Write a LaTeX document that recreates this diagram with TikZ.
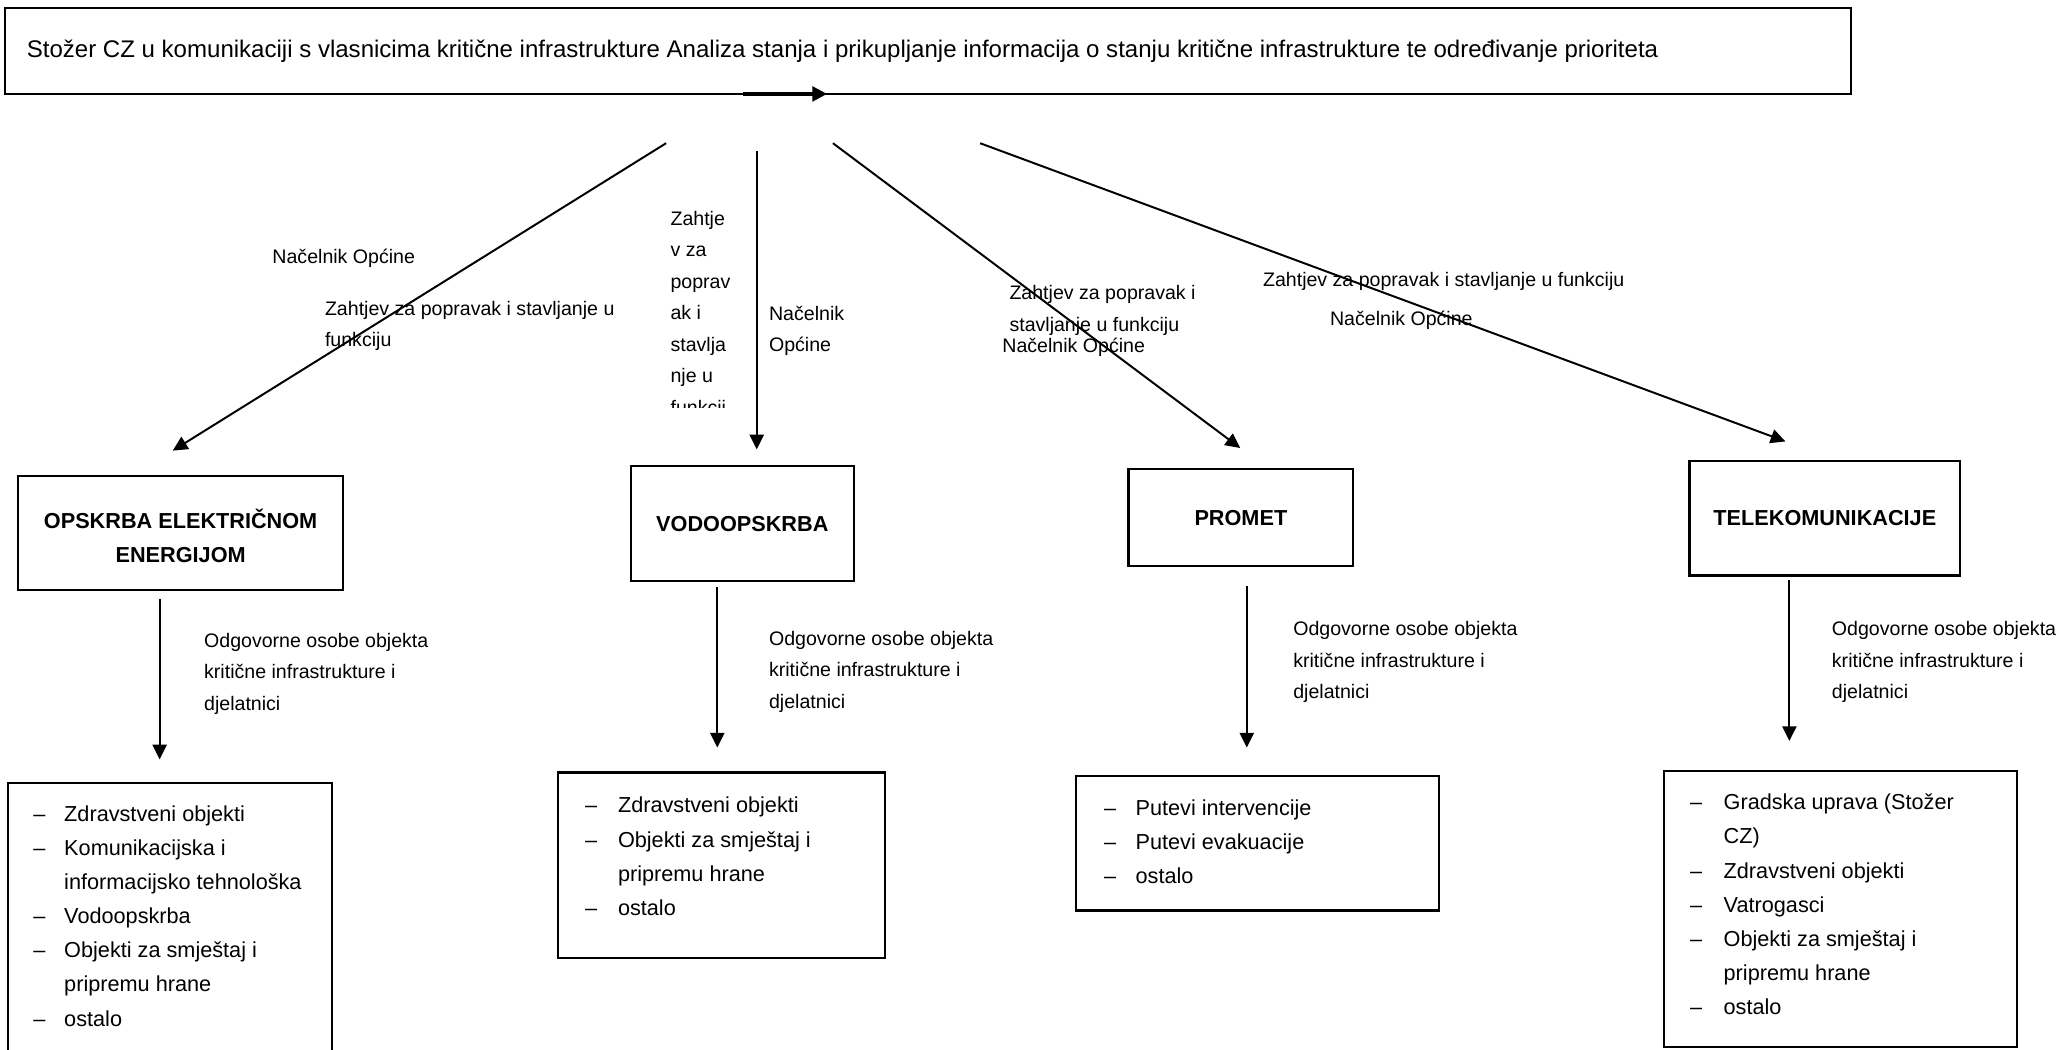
\documentclass[tikz,border=0pt]{standalone}
\usepackage{fontspec}
\setmainfont{Liberation Sans}
\usetikzlibrary{arrows.meta}
\newcommand{\multiline}[1]{\begin{tabular}[t]{@{}l@{}}#1\end{tabular}}
\newcommand{\dashlist}[2]{\begin{tabular}[t]{@{}p{#1}@{}l@{}}#2\end{tabular}}
\begin{document}
\begin{tikzpicture}[x=0.5pt,y=-0.5pt,
  box/.style={draw, line width=0.8pt, inner sep=0, minimum width=#1},
  conn/.style={line width=0.75pt, -{Triangle[length=5.6pt,width=5.4pt]}},
  lbl/.style={anchor=base west, inner sep=0, font=\fontsize{7.45}{12}\selectfont},
  lst/.style={anchor=base west, inner sep=0, font=\fontsize{8.25}{13}\selectfont},
  head/.style={anchor=base, inner sep=0, font=\fontsize{8.25}{13.1}\selectfont\bfseries},
]
\useasboundingbox (0,0) rectangle (1568,799);
\clip (0,0) rectangle (1568,799);

% top box
\node[box=702.5pt, minimum height=32.6pt] (top) at (706.5,38.9) {};
\node[anchor=base west, inner sep=0, font=\fontsize{9.15}{13}\selectfont] (toptext) at (20,43.5)
  {Stožer CZ u komunikaciji s vlasnicima kritične infrastrukture Analiza stanja i prikupljanje informacija o stanju kritične infrastrukture te određivanje prioriteta};
\coordinate (ts) at (565.6,71.5);
\coordinate (te) at (629.5,71.5);
\draw[line width=1.2pt, -{Triangle[length=5.6pt,width=5.6pt]}] (ts) -- (te);

% heading boxes
\node[box=123.5pt, minimum height=43.5pt] (b1) at (137.5,405.5) {};
\node[box=85pt, minimum height=43.5pt] (b2) at (565,398.5) {};
\node[box=85.5pt, minimum height=37pt] (b3) at (944.5,394) {};
\node[box=103pt, minimum height=43.5pt] (b4) at (1389,394.5) {};
\node[head] (h1) at (137.5,402.2) {\begin{tabular}[t]{@{}c@{}}OPSKRBA ELEKTRIČNOM\\ENERGIJOM\end{tabular}};
\node[head] (h2) at (565,404.2) {VODOOPSKRBA};
\node[head] (h3) at (944.5,400.2) {PROMET};
\node[head] (h4) at (1389,400.2) {TELEKOMUNIKACIJE};

% list boxes
\node[box=123.25pt, minimum height=109.5pt] (l1) at (129.25,705.5) {};
\node[box=124.3pt, minimum height=70.5pt] (l2) at (549.3,658.5) {};
\node[box=138pt, minimum height=51.25pt] (l3) at (957,641.75) {};
\node[box=134.2pt, minimum height=105pt] (l4) at (1400.8,692) {};

\node[lst] (i1) at (25,625) {\dashlist{11.75pt}{–&Zdravstveni objekti\\–&Komunikacijska i\\&informacijsko tehnološka\\–&Vodoopskrba\\–&Objekti za smještaj i\\&pripremu hrane\\–&ostalo}};
\node[lst] (i2) at (445,618.7) {\dashlist{12.5pt}{–&Zdravstveni objekti\\–&Objekti za smještaj i\\&pripremu hrane\\–&ostalo}};
\node[lst] (i3) at (840,620.7) {\dashlist{12pt}{–&Putevi intervencije\\–&Putevi evakuacije\\–&ostalo}};
\node[lst] (i4) at (1286,616.3) {\dashlist{12.8pt}{–&Gradska uprava (Stožer\\&CZ)\\–&Zdravstveni objekti\\–&Vatrogasci\\–&Objekti za smještaj i\\&pripremu hrane\\–&ostalo}};

% upper connectors
\coordinate (s1) at (507,109);   \coordinate (e1) at (131.5,343);
\coordinate (s2) at (576,115);   \coordinate (e2) at (576,342);
\coordinate (s3) at (634,109);   \coordinate (e3) at (944,341);
\coordinate (s4) at (746,109);   \coordinate (e4) at (1359,336);
\draw[conn] (s1) -- (e1);
\draw[conn] (s2) -- (e2);
\draw[conn] (s3) -- (e3);
\draw[conn] (s4) -- (e4);

% upper labels
\node[lbl] (n1) at (207,200.4) {Načelnik Općine};
\node[lbl] (z1) at (247,239.8) {\multiline{Zahtjev za popravak i stavljanje u\\funkciju}};
\begin{scope}
\clip (495,140) rectangle (572,310.5);
\node[lbl] (z2) at (510,171.3) {\multiline{Zahtje\\v za\\poprav\\ak i\\stavlja\\nje u\\funkcij}};
\end{scope}
\node[lbl] (n2) at (585,243.6) {\multiline{Načelnik\\Općine}};
\node[lbl, font=\fontsize{7.45}{12.35}\selectfont] (z3) at (768,227.8) {\multiline{Zahtjev za popravak i\\stavljanje u funkciju}};
\node[lbl] (n3) at (762.6,268.4) {Načelnik Općine};
\node[lbl] (z4) at (961,218.2) {Zahtjev za popravak i stavljanje u funkciju};
\node[lbl] (n4) at (1012,248.1) {Načelnik Općine};

% lower connectors
\coordinate (u1) at (121.5,456);  \coordinate (v1) at (121.5,578);
\coordinate (u2) at (546,447);    \coordinate (v2) at (546,569);
\coordinate (u3) at (949,446);    \coordinate (v3) at (949,569);
\coordinate (u4) at (1362,441.6); \coordinate (v4) at (1362,564);
\draw[conn] (u1) -- (v1);
\draw[conn] (u2) -- (v2);
\draw[conn] (u3) -- (v3);
\draw[conn] (u4) -- (v4);

\node[lbl] (o1) at (155,492.5) {\multiline{Odgovorne osobe objekta\\kritične infrastrukture i\\djelatnici}};
\node[lbl] (o2) at (585,491.1) {\multiline{Odgovorne osobe objekta\\kritične infrastrukture i\\djelatnici}};
\node[lbl] (o3) at (984,483.8) {\multiline{Odgovorne osobe objekta\\kritične infrastrukture i\\djelatnici}};
\node[lbl] (o4) at (1394,483.8) {\multiline{Odgovorne osobe objekta\\kritične infrastrukture i\\djelatnici}};
\end{tikzpicture}
\end{document}
